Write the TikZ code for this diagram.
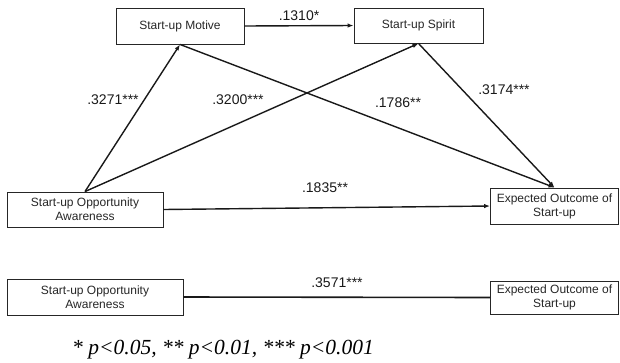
\documentclass[tikz,border=0pt]{standalone}
\usepackage{fontspec}
\setmainfont{Liberation Sans}
\newfontfamily\timesfont{Liberation Serif}
\usetikzlibrary{arrows.meta}
\begin{document}
\begin{tikzpicture}[x=1pt,y=-1pt,
  box/.style={draw=black!85,line width=0.9pt,rectangle,align=center,inner sep=0pt,
    font=\fontsize{12}{14}\selectfont,text=black!85},
  conn/.style={line width=1.4pt,draw=black!90},
  arr/.style={conn,-{Latex[length=6pt,width=4.5pt]}},
  lab/.style={font=\fontsize{14}{16}\selectfont,text=black!90,inner sep=0pt}]
\useasboundingbox (0,0) rectangle (620,362);
\node[box,minimum width=128pt,minimum height=36pt] (mot) at (180,26) {Start-up Motive};
\node[box,minimum width=129pt,minimum height=35pt] (spi) at (418.5,25.5) {Start-up Spirit};
\node[box,minimum width=156pt,minimum height=35pt] (opp) at (85,209.5) {Start-up Opportunity\\Awareness};
\node[box,minimum width=128pt,minimum height=36pt] (exp) at (554.5,206) {Expected Outcome of\\Start-up};
\node[box,minimum width=176pt,minimum height=36pt] (opp2) at (95,297) {Start-up Opportunity\\Awareness};
\node[box,minimum width=128pt,minimum height=33pt] (exp2) at (554.5,297.5) {Expected Outcome of\\Start-up};

\draw[arr] (mot.east) -- (spi.west);
\draw[arr] (opp.north) -- (mot.south);
\draw[arr] (opp.north) -- (spi.south);
\draw[arr] (mot.south) -- (exp.north);
\draw[arr] (spi.south) -- (exp.north);
\draw[arr] (opp.east) -- (exp.west);
\draw[conn,line width=1.6pt] (opp2.east) -- (exp2.west);

\node[lab] (l1) at (299,16) {.1310*};
\node[lab] (l2) at (113,100) {.3271***};
\node[lab] (l3) at (238,100) {.3200***};
\node[lab] (l4) at (398,103) {.1786**};
\node[lab] (l5) at (504,90) {.3174***};
\node[lab] (l6) at (325,188) {.1835**};
\node[lab] (l7) at (337,283) {.3571***};
\node[inner sep=0pt,font=\timesfont\itshape\fontsize{21.5}{24}\selectfont] (fn) at (223,350) {* p<0.05, ** p<0.01, *** p<0.001};
\end{tikzpicture}
\end{document}
